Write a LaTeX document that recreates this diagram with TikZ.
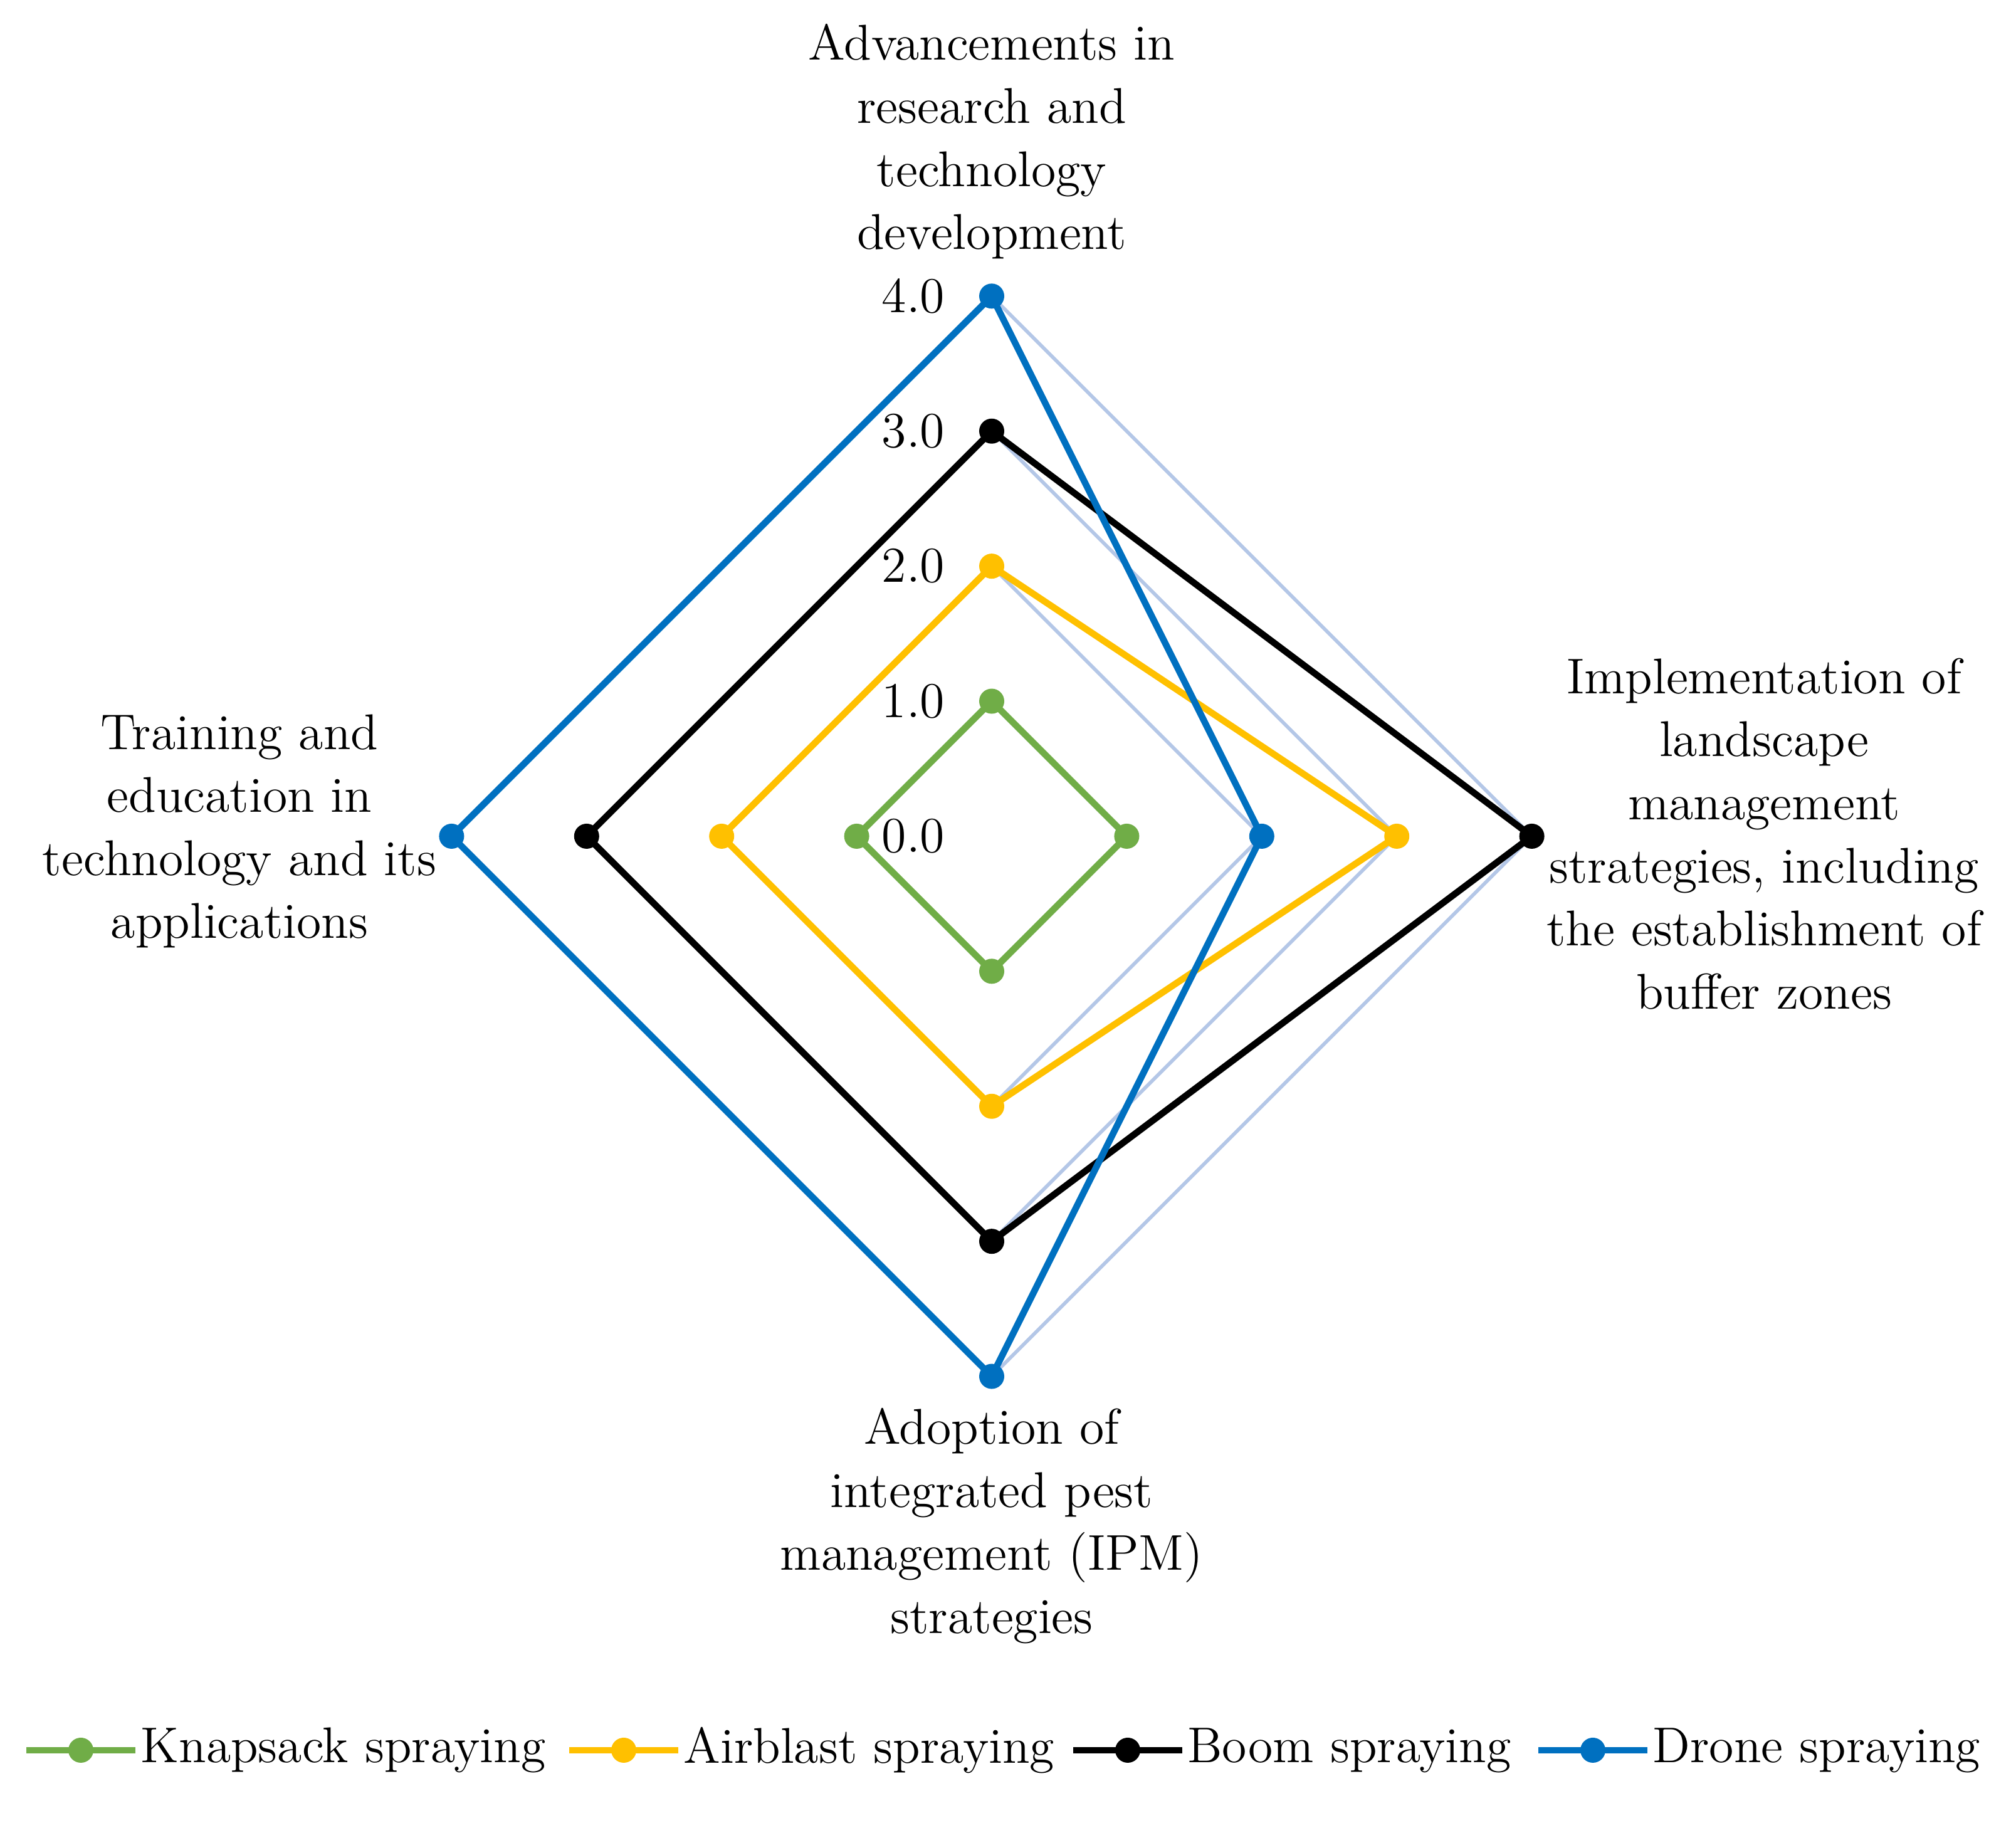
\documentclass[tikz,border=0pt]{standalone}
\usetikzlibrary{positioning,calc}
\definecolor{mygreen}{HTML}{70AD47}
\definecolor{myyellow}{HTML}{FFC000}
\definecolor{myblue}{HTML}{0070C0}
\definecolor{mygrid}{HTML}{B4C7E7}
\begin{document}
\begin{tikzpicture}[
        dot/.style={circle, inner sep=0pt, minimum size=2mm},
        series/.style={line width=1.5pt, line join=round},
        gridline/.style={line width=0.8pt, mygrid},
        axislabel/.style={align=center, font=\fontsize{11.4}{14.3}\selectfont},
        ticklabel/.style={anchor=east, font=\fontsize{11.4}{14}\selectfont}]
        \useasboundingbox (0,0) rectangle (16.08,14.62);
        \coordinate (C) at (7.91,7.95);
        \def\u{1.077}
        % light grid lines on the right half
        \foreach \k in {2,3,4}{
          \draw[gridline] ($(C)+(0,\k*\u)$) -- ($(C)+(\k*\u,0)$) -- ($(C)+(0,-\k*\u)$);
        }
        % tick labels
        \foreach \k in {0,1,2,3,4}{
          \node[ticklabel] (t\k) at ($(C)+(-0.25,\k*\u)$) {\k.0};
        }
        % series: name/colour/top/right/bottom/left
        \foreach \s/\c/\a/\b/\d/\e in {K/mygreen/1/1/1/1, A/myyellow/2/3/2/2, B/black/3/4/3/3, D/myblue/4/2/4/4}{
          \node[dot, fill=\c] (\s1) at ($(C)+(0,\a*\u)$) {};
          \node[dot, fill=\c] (\s2) at ($(C)+(\b*\u,0)$) {};
          \node[dot, fill=\c] (\s3) at ($(C)+(0,-\d*\u)$) {};
          \node[dot, fill=\c] (\s4) at ($(C)+(-\e*\u,0)$) {};
          \draw[series, \c] (\s1.center) -- (\s2.center) -- (\s3.center) -- (\s4.center) -- cycle;
        }
        % axis labels
        \node[axislabel] (top) at (7.91,13.49) {Advancements in\\research and\\technology\\development};
        \node[axislabel] (right) at (14.07,7.97) {Implementation of\\landscape\\management\\strategies, including\\the establishment of\\buffer zones};
        \node[axislabel] (left) at (1.91,7.99) {Training and\\education in\\technology and its\\applications};
        \node[axislabel] (bottom) at (7.91,2.45) {Adoption of\\integrated pest\\management (IPM)\\strategies};
        % legend
        \foreach \s/\c/\x/\t in {K/mygreen/0.21/Knapsack spraying, A/myyellow/4.54/Airblast spraying, B/black/8.56/Boom spraying, D/myblue/12.27/Drone spraying}{
          \coordinate (l\s a) at (\x,0.66);
          \coordinate (l\s b) at (\x+0.87,0.66);
          \draw[series, \c] (l\s a) -- (l\s b);
          \node[dot, fill=\c] (l\s) at ($(l\s a)!0.5!(l\s b)$) {};
          \node[anchor=west, inner sep=1pt, font=\fontsize{11.4}{14}\selectfont] (l\s t) at (l\s b) {\t};
        }
\end{tikzpicture}
\end{document}
